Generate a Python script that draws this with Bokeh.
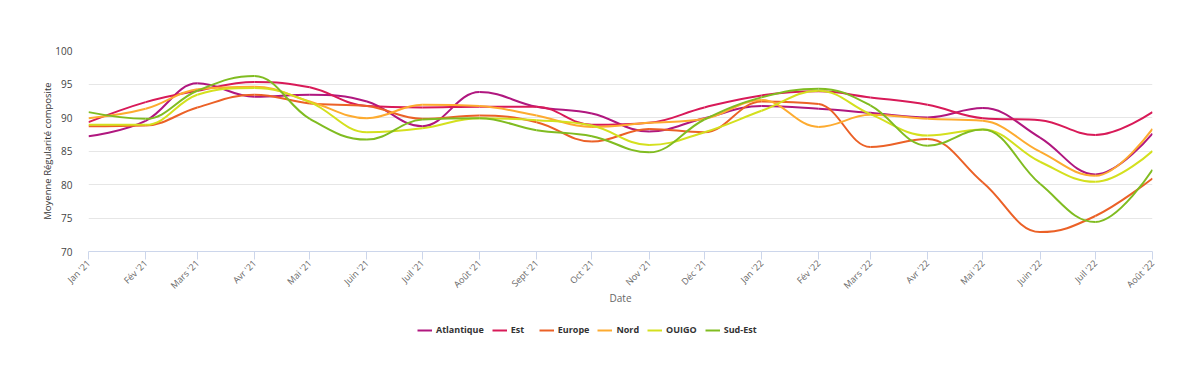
import pandas as pd
from bokeh.plotting import figure
from bokeh.layouts import column
from bokeh.models import FixedTicker, Legend, LegendItem, Range1d, ColumnDataSource
from bokeh.embed import file_html
from bokeh.resources import INLINE

# ---- data ----
months = ["2021-01-01", "2021-02-01", "2021-03-01", "2021-04-01", "2021-05-01",
          "2021-06-01", "2021-07-01", "2021-08-01", "2021-09-01", "2021-10-01",
          "2021-11-01", "2021-12-01", "2022-01-01", "2022-02-01", "2022-03-01",
          "2022-04-01", "2022-05-01", "2022-06-01", "2022-07-01", "2022-08-01"]
tick_labels = ["Jan '21", "Fév '21", "Mars '21", "Avr '21", "Mai '21", "Juin '21",
               "Juil '21", "Août '21", "Sept '21", "Oct '21", "Nov '21", "Déc '21",
               "Jan '22", "Fév '22", "Mars '22", "Avr '22", "Mai '22", "Juin '22",
               "Juil '22", "Août '22"]

series_names = ["Atlantique", "Est", "Europe", "Nord", "OUIGO", "Sud-Est"]
atlantique = [87.2, 89.5, 95.1, 93.1, 93.4, 92.4, 88.7, 93.8, 91.6, 90.6,
              87.9, 89.9, 91.7, 91.3, 90.7, 90.0, 91.4, 87.0, 81.5, 87.6]
est = [89.3, 92.3, 94.0, 95.3, 94.5, 91.7, 91.5, 91.6, 91.6, 88.9,
       89.2, 91.5, 93.3, 93.9, 93.0, 91.9, 89.9, 89.6, 87.4, 90.8]
europe = [88.7, 88.8, 91.5, 93.4, 92.1, 91.7, 89.8, 90.3, 89.3, 86.4,
          88.3, 87.8, 92.4, 92.0, 85.6, 86.8, 80.3, 72.9, 75.3, 80.9]
nord = [89.9, 91.3, 94.2, 94.6, 92.4, 89.9, 91.9, 91.7, 90.3, 88.6,
        89.2, 89.8, 92.6, 88.6, 90.4, 89.8, 89.5, 84.9, 81.3, 88.3]
ouigo = [88.9, 88.9, 93.4, 94.4, 92.3, 87.8, 88.4, 89.9, 89.6, 88.8,
         85.9, 87.8, 91.0, 94.0, 90.5, 87.3, 88.2, 83.4, 80.4, 85.0]
sud_est = [90.8, 89.8, 94.0, 96.2, 89.8, 86.7, 89.7, 89.9, 88.1, 87.2,
           84.8, 89.7, 93.0, 94.3, 91.8, 85.8, 88.2, 80.1, 74.4, 82.2]
series_values = [atlantique, est, europe, nord, ouigo, sud_est]
colors = ["#b0177f", "#d81a58", "#eb6127", "#fdab30", "#d4e01e", "#80bc21"]

# x positions: days since first month (true calendar spacing)
dates = pd.to_datetime(months)
xs = [float((d - dates[0]).days) for d in dates]


def spline_segments(x, y, smoothing=1.5):
    """Highcharts-style spline: cubic Bezier control points for each segment."""
    n = len(x)
    denom = smoothing + 1
    lc = [None] * n
    rc = [None] * n
    for i in range(1, n - 1):
        px, py = x[i], y[i]
        lx, ly = x[i - 1], y[i - 1]
        nx, ny = x[i + 1], y[i + 1]
        lcx = (smoothing * px + lx) / denom
        lcy = (smoothing * py + ly) / denom
        rcx = (smoothing * px + nx) / denom
        rcy = (smoothing * py + ny) / denom
        if rcx != lcx:
            corr = ((rcy - lcy) * (rcx - px)) / (rcx - lcx) + py - rcy
            lcy += corr
            rcy += corr
        if lcy > ly and lcy > py:
            lcy = max(ly, py)
            rcy = 2 * py - lcy
        elif lcy < ly and lcy < py:
            lcy = min(ly, py)
            rcy = 2 * py - lcy
        if rcy > ny and rcy > py:
            rcy = max(ny, py)
            lcy = 2 * py - rcy
        elif rcy < ny and rcy < py:
            rcy = min(ny, py)
            lcy = 2 * py - rcy
        lc[i] = (lcx, lcy)
        rc[i] = (rcx, rcy)
    seg = dict(x0=[], y0=[], x1=[], y1=[], cx0=[], cy0=[], cx1=[], cy1=[])
    for i in range(1, n):
        c0 = rc[i - 1] if rc[i - 1] is not None else (x[i - 1], y[i - 1])
        c1 = lc[i] if lc[i] is not None else (x[i], y[i])
        seg["x0"].append(x[i - 1]); seg["y0"].append(y[i - 1])
        seg["x1"].append(x[i]); seg["y1"].append(y[i])
        seg["cx0"].append(c0[0]); seg["cy0"].append(c0[1])
        seg["cx1"].append(c1[0]); seg["cy1"].append(c1[1])
    return seg


FONT = "Open Sans"

p = figure(frame_width=1064, frame_height=201,
           min_border_left=88, min_border_right=40, min_border_top=50, min_border_bottom=60,
           output_backend="svg", toolbar_location=None,
           x_range=Range1d(xs[0], xs[-1]), y_range=Range1d(70, 100))
p.outline_line_color = None
p.background_fill_color = "white"
p.border_fill_color = "white"

for name, vals, col in zip(series_names, series_values, colors):
    src = ColumnDataSource(spline_segments(xs, vals))
    p.bezier(x0="x0", y0="y0", x1="x1", y1="y1", cx0="cx0", cy0="cy0",
             cx1="cx1", cy1="cy1", source=src, line_color=col, line_width=2)

# axes
p.xaxis.ticker = FixedTicker(ticks=xs)
p.xaxis.major_label_overrides = {x: lab for x, lab in zip(xs, tick_labels)}
p.xaxis.major_label_orientation = 0.785398
p.xaxis.axis_line_color = "#ccd6eb"
p.xaxis.major_tick_line_color = "#ccd6eb"
p.xaxis.major_tick_out = 8
p.xaxis.major_tick_in = 0
p.xaxis.minor_tick_line_color = None
p.xaxis.major_label_text_font = FONT
p.xaxis.major_label_text_font_size = "9px"
p.xaxis.major_label_text_color = "#666666"
p.xaxis.major_label_standoff = 2
p.xaxis.axis_label = "Date"
p.xaxis.axis_label_text_font = FONT
p.xaxis.axis_label_text_font_size = "10px"
p.xaxis.axis_label_text_font_style = "normal"
p.xaxis.axis_label_text_color = "#666666"
p.xaxis.axis_label_standoff = -8

p.yaxis.ticker = FixedTicker(ticks=[70, 75, 80, 85, 90, 95, 100])
p.yaxis.axis_line_color = None
p.yaxis.major_tick_line_color = None
p.yaxis.minor_tick_line_color = None
p.yaxis.major_label_text_font = FONT
p.yaxis.major_label_text_font_size = "10px"
p.yaxis.major_label_text_color = "#444444"
p.yaxis.major_label_standoff = 10
p.yaxis.axis_label = "Moyenne Régularité composite"
p.yaxis.axis_label_text_font = FONT
p.yaxis.axis_label_text_font_size = "9.5px"
p.yaxis.axis_label_text_font_style = "normal"
p.yaxis.axis_label_text_color = "#333333"
p.yaxis.axis_label_standoff = -2

p.xgrid.grid_line_color = None
p.ygrid.grid_line_color = "#e6e6e6"

# legend strip (separate figure below the chart); proxies are single-point lines
lg = figure(width=1192, height=36, min_border=0, output_backend="svg",
            toolbar_location=None, x_range=Range1d(-2, -1), y_range=Range1d(-2, -1))
lg.axis.visible = False
lg.grid.visible = False
lg.outline_line_color = None
items = []
for name, vals, col in zip(series_names, series_values, colors):
    r = lg.line(x=[xs[0]], y=[vals[0]], line_color=col, line_width=2)
    items.append(LegendItem(label=name, renderers=[r]))
legend = Legend(items=items, orientation="horizontal", location=(329, 11),
                glyph_width=15, glyph_height=12, label_height=12,
                label_standoff=4, spacing=8, padding=2, margin=0,
                label_text_font=FONT, label_text_font_size="9px",
                label_text_font_style="bold", label_text_color="#333333",
                border_line_color=None, background_fill_alpha=0)
lg.add_layout(legend, "center")

layout = column(p, lg, spacing=0)
open("out.html", "w").write(file_html(layout, INLINE))
